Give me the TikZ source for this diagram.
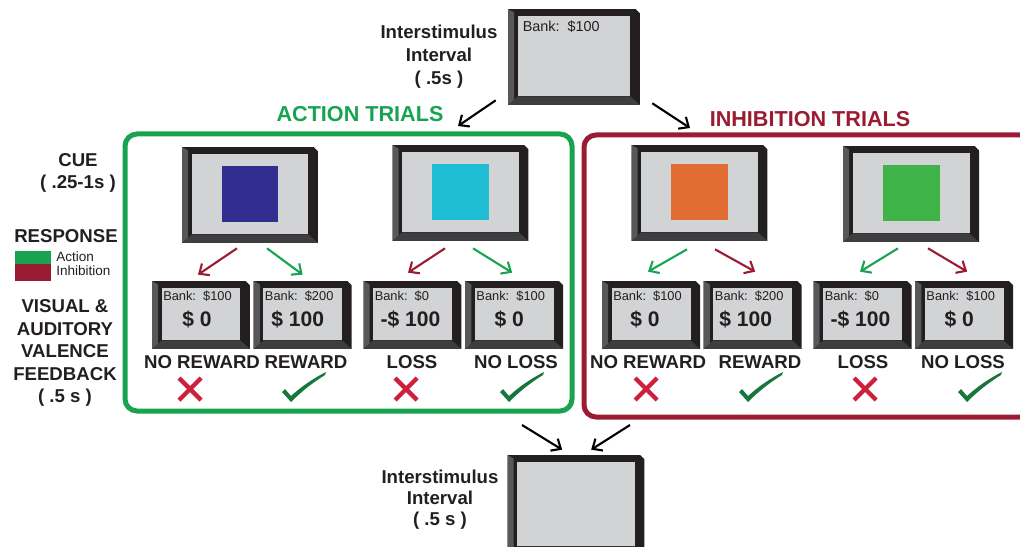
\documentclass[tikz,border=0pt]{standalone}
\usepackage{fontspec}
\setmainfont{Liberation Sans}
\usepackage{xcolor}
\usetikzlibrary{arrows.meta,positioning,calc}

\definecolor{actgreen}{RGB}{24,163,80}
\definecolor{inhred}{RGB}{155,28,50}
\definecolor{crossred}{RGB}{205,32,58}
\definecolor{tickgreen}{RGB}{22,118,60}
\definecolor{screengray}{RGB}{209,211,212}
\definecolor{bezel}{RGB}{35,31,32}
\definecolor{bezelside}{RGB}{88,88,90}
\definecolor{bezelbottom}{RGB}{62,62,64}
\definecolor{inkgray}{RGB}{35,31,32}
\definecolor{cueblue}{RGB}{50,46,145}
\definecolor{cuecyan}{RGB}{32,190,212}
\definecolor{cueorange}{RGB}{225,108,52}
\definecolor{cuegreen}{RGB}{62,180,72}

% outcome marks, centred on the given point (units are pixels)
\newcommand{\okmark}[1]{\fill[tickgreen, shift={(#1)}] (-22,4) -- (-19,1) -- (-13,8)
  .. controls (-2,-2) and (10,-10) .. (22,-16) -- (21,-13)
  .. controls (8,-5) and (-3,4) .. (-13,14) -- cycle;}
\newcommand{\nomark}[1]{\draw[crossred, line width=0.085cm, shift={(#1)}]
  (-11,-11) -- (11,11) (-11,11) -- (11,-11);}

\begin{document}
\begin{tikzpicture}[
  x=0.02cm, y=-0.02cm,
  monitor/.style={rectangle, inner sep=0pt, fill=white, path picture={
      \coordinate (msw) at (path picture bounding box.south west);
      \coordinate (mnw) at (path picture bounding box.north west);
      \coordinate (mne) at (path picture bounding box.north east);
      \coordinate (mse) at (path picture bounding box.south east);
      \fill[bezel] (msw) -- (mnw) -- ([xshift=-2.5pt]mne) -- ([yshift=-2.5pt]mne)
        -- (mse) -- cycle;
      \fill[bezelside] (msw) -- (mnw) -- ([shift={(3.5pt,-2pt)}]mnw)
        -- ([shift={(3.5pt,2pt)}]msw) -- cycle;
      \fill[bezelbottom] (msw) -- (mse) -- ([shift={(-0.19cm,0.17cm)}]mse)
        -- ([shift={(0.19cm,0.17cm)}]msw) -- cycle;
      \fill[screengray] ([shift={(0.19cm,0.17cm)}]msw)
        rectangle ([shift={(-0.19cm,-0.13cm)}]mne);}},
  cuemon/.style={monitor, minimum width=2.72cm, minimum height=1.92cm},
  fbmon/.style={monitor, minimum width=1.96cm, minimum height=1.36cm},
  cuesq/.style={rectangle, inner sep=0pt, minimum size=1.14cm},
  bank/.style={font=\fontsize{7.3}{8}\selectfont, text=inkgray, inner sep=1pt,
               anchor=north west},
  amount/.style={font=\bfseries\fontsize{12}{14}\selectfont, text=inkgray, inner sep=0pt},
  outcome/.style={font=\bfseries\fontsize{10.6}{12}\selectfont, text=inkgray, inner sep=0pt},
  stage/.style={font=\bfseries\fontsize{10.6}{13}\selectfont, text=inkgray,
                align=center, inner sep=0pt},
  keytxt/.style={font=\fontsize{7.7}{9}\selectfont, text=inkgray, inner sep=0pt, anchor=west},
  trial/.style={font=\bfseries\fontsize{12.3}{14}\selectfont, inner sep=0pt},
  frame/.style={line width=0.1cm, rounded corners=0.24cm},
  flow/.style={line width=1.2pt, -{Straight Barb[length=4.5pt,width=8pt]}},
]
  \useasboundingbox (0,0) rectangle (1020,547);

  % Interstimulus interval before the cue
  \node[monitor, minimum width=2.64cm, minimum height=1.92cm] (isi1) at (574,57) {};
  \node[bank, font=\fontsize{8.2}{9}\selectfont] (bank0)
       at ([shift={(13,10)}]isi1.north west) {Bank:\ \ \$100};
  \node[stage] (isi1txt) at (439,57) {Interstimulus\\Interval\\( .5s )};

  % Trial blocks
  \draw[frame, actgreen] (125,134) rectangle (572,411);
  \draw[frame, inhred] (584,135) rectangle (1040,417);
  \node[trial, text=actgreen] (acttitle) at (360,114) {ACTION TRIALS};
  \node[trial, text=inhred] (inhtitle) at (810,119) {INHIBITION TRIALS};
  \coordinate (actin) at (458,126);
  \coordinate (inhin) at (690,128);
  \draw[flow] ([shift={(-12,-5)}]isi1.south west) -- (actin);
  \draw[flow] ([shift={(12,-2)}]isi1.south east) -- (inhin);

  % Left column
  \node[stage] (cuetxt) at (78,173) {CUE\\( .25-1s )};
  \node[stage] (resptxt) at (66,236) {RESPONSE};
  \fill[actgreen] (15,251) rectangle (51,264);
  \fill[inhred] (15,264) rectangle (51,281);
  \node[keytxt] (keyact) at (56,257) {Action};
  \node[keytxt] (keyinh) at (56,271) {Inhibition};
  \node[stage, font=\bfseries\fontsize{10.6}{12.8}\selectfont] (fbtxt) at (65,353)
       {VISUAL \&\\AUDITORY\\VALENCE\\FEEDBACK\\( .5 s )};

  % Cue screens
  \node[cuemon] (cue1) at (250,195) {};
  \node[cuemon] (cue2) at (460.5,193) {};
  \node[cuemon] (cue3) at (699.5,193) {};
  \node[cuemon] (cue4) at (911,194) {};
  \node[cuesq, fill=cueblue] (sq1) at ([yshift=0.02cm]cue1.center) {};
  \node[cuesq, fill=cuecyan] (sq2) at ([yshift=0.02cm]cue2.center) {};
  \node[cuesq, fill=cueorange] (sq3) at ([yshift=0.02cm]cue3.center) {};
  \node[cuesq, fill=cuegreen] (sq4) at ([yshift=0.02cm]cue4.center) {};

  % Feedback screens
  \node[fbmon] (fb1) at (201,315) {};
  \node[fbmon, right=0.06cm of fb1] (fb2) {};
  \node[fbmon] (fb3) at (412.5,315) {};
  \node[fbmon, right=0.06cm of fb3] (fb4) {};
  \node[fbmon] (fb5) at (651,315) {};
  \node[fbmon, right=0.06cm of fb5] (fb6) {};
  \node[fbmon] (fb7) at (862.5,315) {};
  \node[fbmon, right=0.06cm of fb7] (fb8) {};

  \node[bank] (bank1) at ([shift={(9.5,8)}]fb1.north west) {Bank:\ \ \$100};
  \node[bank] (bank2) at ([shift={(9.5,8)}]fb2.north west) {Bank:\ \ \$200};
  \node[bank] (bank3) at ([shift={(9.5,8)}]fb3.north west) {Bank:\ \ \$0};
  \node[bank] (bank4) at ([shift={(9.5,8)}]fb4.north west) {Bank:\ \ \$100};
  \node[bank] (bank5) at ([shift={(9.5,8)}]fb5.north west) {Bank:\ \ \$100};
  \node[bank] (bank6) at ([shift={(9.5,8)}]fb6.north west) {Bank:\ \ \$200};
  \node[bank] (bank7) at ([shift={(9.5,8)}]fb7.north west) {Bank:\ \ \$0};
  \node[bank] (bank8) at ([shift={(9.5,8)}]fb8.north west) {Bank:\ \ \$100};

  \node[amount] (amt1) at ([shift={(-4,4.5)}]fb1.center) {\$ 0};
  \node[amount] (amt2) at ([shift={(-5,4.5)}]fb2.center) {\$ 100};
  \node[amount] (amt3) at ([shift={(-2,4.5)}]fb3.center) {-\$ 100};
  \node[amount] (amt4) at ([shift={(-5,4.5)}]fb4.center) {\$ 0};
  \node[amount] (amt5) at ([shift={(-6,4.5)}]fb5.center) {\$ 0};
  \node[amount] (amt6) at ([shift={(-7,4.5)}]fb6.center) {\$ 100};
  \node[amount] (amt7) at ([shift={(-2,4.5)}]fb7.center) {-\$ 100};
  \node[amount] (amt8) at ([shift={(-5,4.5)}]fb8.center) {\$ 0};

  % Responses (green = action, red = inhibition)
  \draw[flow, inhred] ([shift={(-13,5)}]cue1.south) -- ([shift={(-3,-6)}]fb1.north);
  \draw[flow, actgreen] ([shift={(17,5)}]cue1.south) -- ([shift={(0,-6)}]fb2.north);
  \draw[flow, inhred] ([shift={(-15.5,7)}]cue2.south) -- ([shift={(-4.5,-8)}]fb3.north);
  \draw[flow, actgreen] ([shift={(12.5,7)}]cue2.south) -- ([shift={(-2,-8)}]fb4.north);
  \draw[flow, actgreen] ([shift={(-12.5,8)}]cue3.south) -- ([shift={(-3,-9)}]fb5.north);
  \draw[flow, inhred] ([shift={(15.5,8)}]cue3.south) -- ([shift={(2.5,-9)}]fb6.north);
  \draw[flow, actgreen] ([shift={(-13,6)}]cue4.south) -- ([shift={(-2.5,-9)}]fb7.north);
  \draw[flow, inhred] ([shift={(17,6)}]cue4.south) -- ([shift={(3,-9)}]fb8.north);

  % Outcomes
  \node[outcome] (out1) at (202,362) {NO REWARD};
  \node[outcome] (out2) at (306,362) {REWARD};
  \node[outcome] (out3) at (412,362) {LOSS};
  \node[outcome] (out4) at (516,362) {NO LOSS};
  \node[outcome] (out5) at (648,362) {NO REWARD};
  \node[outcome] (out6) at (760,362) {REWARD};
  \node[outcome] (out7) at (863,362) {LOSS};
  \node[outcome] (out8) at (963,362) {NO LOSS};
  \nomark{190,389} \okmark{304,388} \nomark{406,389} \okmark{522,388}
  \nomark{646,389} \okmark{761,388} \nomark{865,389} \okmark{980,388}

  % Interstimulus interval after feedback
  \coordinate (actout) at (522,425);
  \coordinate (inhout) at (630,425);
  \node[monitor, minimum width=2.74cm, minimum height=2cm] (isi2) at (576,505) {};
  \draw[flow] (actout) -- ([shift={(55,-5)}]isi2.north west);
  \draw[flow] (inhout) -- ([shift={(84,-5)}]isi2.north west);
  \node[stage, font=\bfseries\fontsize{10.6}{12}\selectfont] (isi2txt) at (440,500)
       {Interstimulus\\Interval\\( .5 s )};
\end{tikzpicture}
\end{document}
